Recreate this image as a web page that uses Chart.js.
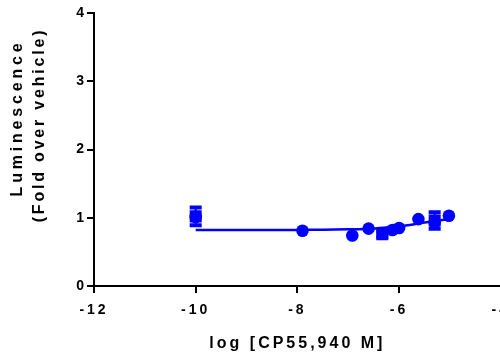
<!DOCTYPE html>
<html>
<head>
<meta charset="utf-8">
<script src="https://cdn.jsdelivr.net/npm/chart.js@4"></script>
<style>
    html, body { margin: 0; padding: 0; background: #fff; overflow: hidden; }
    #wrap { width: 516px; height: 354px; position: relative; }
</style>
</head>
<body>
<div id="wrap"><canvas id="myChart"></canvas></div>
<script>
// log concentration (x) and fold-over-vehicle (y)
const circleX = [-10, -7.9, -6.92, -6.6, -6.13, -6.0, -5.62, -5.3, -5.02];
const circleY = [1.01, 0.81, 0.74, 0.84, 0.82, 0.85, 0.98, 0.93, 1.03];

const squareX = [-10, -6.33, -5.3];
const squareY = [1.02, 0.76, 0.96];
const squareErr = [0.13, 0.04, 0.12];

// fitted curve
const fitX = [-10, -9, -8, -7.5, -7, -6.6, -6.3, -6.0, -5.7, -5.5, -5.3, -5.0];
const fitY = [0.82, 0.82, 0.822, 0.825, 0.83, 0.84, 0.855, 0.875, 0.905, 0.93, 0.95, 0.985];

const xTicks = [-12, -10, -8, -6, -4];
const yTicks = [0, 1, 2, 3, 4];

const blue = '#0000ff';
const font = "'Liberation Sans', Arial, sans-serif";

function toPoints(xs, ys) {
    return xs.map(function (x, i) {
        return { x: x, y: ys[i] };
    });
}

// spaced-out lettering like the original
const spacing = {
    id: 'spacing',
    beforeDraw(chart) {
        chart.ctx.letterSpacing = '3px';
    }
};

// error bars for the square series
const errorBars = {
    id: 'errorBars',
    beforeDatasetsDraw(chart) {
        const ctx = chart.ctx;
        const xs = chart.scales.x, ys = chart.scales.y;
        ctx.save();
        ctx.strokeStyle = blue;
        squareX.forEach(function (x, i) {
            const px = xs.getPixelForValue(x);
            const top = ys.getPixelForValue(squareY[i] + squareErr[i]);
            const bot = ys.getPixelForValue(squareY[i] - squareErr[i]);
            ctx.lineWidth = 2;
            ctx.beginPath();
            ctx.moveTo(px, top);
            ctx.lineTo(px, bot);
            ctx.stroke();
            ctx.lineWidth = 4;
            ctx.beginPath();
            ctx.moveTo(px - 6, top);
            ctx.lineTo(px + 6, top);
            ctx.moveTo(px - 6, bot);
            ctx.lineTo(px + 6, bot);
            ctx.stroke();
        });
        ctx.restore();
    }
};

// two-line rotated y title
const yTitle = {
    id: 'yTitle',
    afterDraw(chart) {
        const ctx = chart.ctx;
        ctx.save();
        ctx.fillStyle = '#000';
        ctx.font = 'bold 16px ' + font;
        ctx.textAlign = 'center';
        ctx.textBaseline = 'middle';
        ctx.translate(18, 118);
        ctx.rotate(-Math.PI / 2);
        ctx.letterSpacing = '3.8px';
        ctx.fillText('Luminescence', 0, 0);
        ctx.letterSpacing = '2.8px';
        ctx.fillText('(Fold over vehicle)', -7, 22);
        ctx.restore();
    }
};

const ctx = document.getElementById('myChart').getContext('2d');
const myChart = new Chart(ctx, {
    type: 'scatter',
    data: {
        datasets: [
            {
                label: 'circles',
                data: toPoints(circleX, circleY),
                pointStyle: 'circle',
                pointRadius: 6.3,
                backgroundColor: blue,
                borderColor: blue,
                borderWidth: 0,
                order: 1
            },
            {
                label: 'squares',
                data: toPoints(squareX, squareY),
                pointStyle: 'rect',
                pointRadius: 8.5,
                backgroundColor: blue,
                borderColor: blue,
                borderWidth: 0,
                order: 0
            },
            {
                label: 'fit',
                data: toPoints(fitX, fitY),
                showLine: true,
                pointRadius: 0,
                borderColor: blue,
                borderWidth: 2.5,
                tension: 0.3,
                order: 2
            }
        ]
    },
    options: {
        responsive: true,
        maintainAspectRatio: false,
        animation: false,
        layout: { padding: { left: 54, top: 13, right: 0, bottom: 1 } },
        plugins: {
            legend: { display: false },
            tooltip: { enabled: false }
        },
        scales: {
            x: {
                type: 'linear',
                min: -12,
                max: -4,
                afterBuildTicks: function (scale) {
                    scale.ticks = xTicks.map(function (v) { return { value: v }; });
                },
                border: { color: '#000', width: 2 },
                grid: { drawOnChartArea: false, drawTicks: true, tickLength: 7, tickColor: '#000', lineWidth: 2 },
                ticks: { color: '#000', padding: 9, maxRotation: 0, font: { family: font, size: 14, weight: 'bold' } },
                title: {
                    display: true,
                    text: 'log [CP55,940 M]',
                    color: '#000',
                    padding: { top: 6, bottom: 0 },
                    font: { family: font, size: 16, weight: 'bold' }
                }
            },
            y: {
                min: 0,
                max: 4,
                afterBuildTicks: function (scale) {
                    scale.ticks = yTicks.map(function (v) { return { value: v }; });
                },
                afterFit: function (scale) {
                    scale.width = 40;
                },
                border: { color: '#000', width: 2 },
                grid: { drawOnChartArea: false, drawTicks: true, tickLength: 7, tickColor: '#000', lineWidth: 2 },
                ticks: { color: '#000', padding: 0, font: { family: font, size: 14, weight: 'bold' } }
            }
        }
    },
    plugins: [spacing, errorBars, yTitle]
});
</script>
</body>
</html>
